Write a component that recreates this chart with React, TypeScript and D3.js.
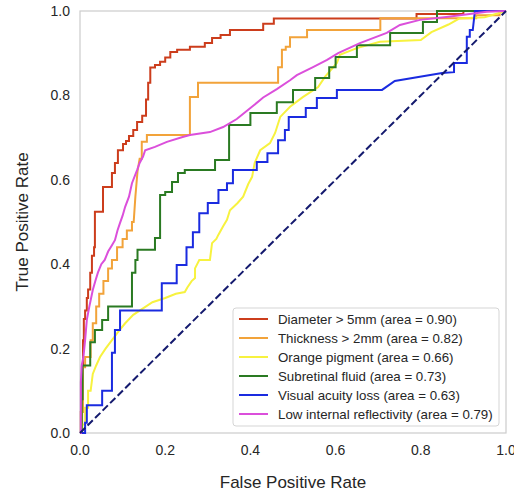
import React from "react";
import * as d3 from "d3";

const xTicks = [0, 0.2, 0.4, 0.6, 0.8, 1.0];
const yTicks = [0, 0.2, 0.4, 0.6, 0.8, 1.0];

const seriesNames = [
  "Diameter > 5mm (area = 0.90)",
  "Thickness > 2mm (area = 0.82)",
  "Orange pigment (area = 0.66)",
  "Subretinal fluid (area = 0.73)",
  "Visual acuity loss (area = 0.63)",
  "Low internal reflectivity (area = 0.79)",
];
const seriesColors = ["#cc3d1c", "#f2a33a", "#f7f23f", "#2a7a22", "#1a2be0", "#db4fdb"];

const diameter: [number, number][] = [
  [0, 0], [0.002, 0], [0.002, 0.05], [0.005, 0.05], [0.005, 0.16], [0.007, 0.16], [0.007, 0.22],
  [0.009, 0.22], [0.009, 0.27], [0.012, 0.27], [0.012, 0.29], [0.016, 0.29], [0.016, 0.32],
  [0.019, 0.32], [0.019, 0.34], [0.024, 0.34], [0.024, 0.38], [0.028, 0.38], [0.028, 0.42],
  [0.033, 0.42], [0.033, 0.44], [0.035, 0.44], [0.035, 0.524], [0.054, 0.524], [0.054, 0.583],
  [0.075, 0.583], [0.075, 0.616], [0.082, 0.616], [0.082, 0.64], [0.089, 0.64], [0.089, 0.67],
  [0.101, 0.67], [0.101, 0.685], [0.108, 0.685], [0.108, 0.692], [0.115, 0.692], [0.115, 0.704],
  [0.125, 0.704], [0.125, 0.718], [0.134, 0.718], [0.134, 0.737], [0.146, 0.737], [0.146, 0.752],
  [0.155, 0.752], [0.155, 0.79], [0.16, 0.79], [0.16, 0.83], [0.165, 0.83], [0.165, 0.866],
  [0.176, 0.866], [0.176, 0.872], [0.188, 0.872], [0.188, 0.88], [0.2, 0.88], [0.2, 0.89],
  [0.212, 0.89], [0.212, 0.903], [0.228, 0.903], [0.228, 0.908], [0.258, 0.908], [0.258, 0.915],
  [0.293, 0.915], [0.293, 0.924], [0.31, 0.924], [0.31, 0.936], [0.33, 0.936], [0.33, 0.943],
  [0.352, 0.943], [0.352, 0.955], [0.43, 0.955], [0.43, 0.97], [0.455, 0.97], [0.455, 0.982],
  [0.79, 0.982], [0.79, 0.993], [0.9, 0.993], [0.9, 1], [1, 1],
];

const thickness: [number, number][] = [
  [0, 0], [0.005, 0], [0.005, 0.05], [0.007, 0.05], [0.007, 0.156], [0.012, 0.156], [0.012, 0.18],
  [0.025, 0.18], [0.025, 0.22], [0.03, 0.22], [0.03, 0.26], [0.038, 0.26], [0.038, 0.3],
  [0.045, 0.3], [0.045, 0.33], [0.055, 0.33], [0.055, 0.36], [0.066, 0.36], [0.066, 0.39],
  [0.075, 0.39], [0.075, 0.41], [0.087, 0.41], [0.087, 0.44], [0.1, 0.44], [0.1, 0.46],
  [0.11, 0.46], [0.11, 0.48], [0.122, 0.48], [0.122, 0.5], [0.126, 0.5], [0.13, 0.56],
  [0.135, 0.62], [0.14, 0.65], [0.145, 0.65], [0.145, 0.69], [0.157, 0.69], [0.157, 0.706],
  [0.258, 0.706], [0.258, 0.796], [0.277, 0.796], [0.277, 0.83], [0.465, 0.83], [0.465, 0.867],
  [0.474, 0.867], [0.474, 0.908], [0.483, 0.908], [0.483, 0.915], [0.493, 0.915], [0.493, 0.938],
  [0.533, 0.938], [0.533, 0.955], [0.705, 0.955], [0.705, 0.983], [0.93, 0.983], [0.93, 0.99],
  [0.985, 0.99], [0.985, 1], [1, 1],
];

const pigment: [number, number][] = [
  [0, 0], [0.005, 0], [0.005, 0.02], [0.012, 0.02], [0.012, 0.06], [0.019, 0.06], [0.019, 0.1],
  [0.025, 0.1], [0.03, 0.14], [0.038, 0.16], [0.047, 0.18], [0.06, 0.2], [0.075, 0.22],
  [0.09, 0.24], [0.106, 0.26], [0.125, 0.28], [0.14, 0.29], [0.17, 0.31], [0.2, 0.32],
  [0.225, 0.33], [0.246, 0.334], [0.252, 0.345], [0.262, 0.36], [0.27, 0.367], [0.27, 0.39],
  [0.28, 0.41], [0.305, 0.41], [0.31, 0.45], [0.32, 0.46], [0.325, 0.47], [0.336, 0.49],
  [0.345, 0.505], [0.352, 0.528], [0.37, 0.545], [0.383, 0.56], [0.395, 0.59], [0.404, 0.607],
  [0.41, 0.64], [0.423, 0.67], [0.446, 0.687], [0.458, 0.711], [0.47, 0.749], [0.493, 0.773],
  [0.523, 0.796], [0.559, 0.82], [0.575, 0.844], [0.603, 0.877], [0.61, 0.896], [0.65, 0.912],
  [0.704, 0.927], [0.8, 0.931], [0.825, 0.95], [0.865, 0.968], [0.89, 0.982], [0.95, 0.985],
  [1, 1],
];

const fluid: [number, number][] = [
  [0, 0], [0.004, 0], [0.004, 0.08], [0.006, 0.08], [0.006, 0.16], [0.024, 0.16], [0.024, 0.215],
  [0.035, 0.215], [0.035, 0.244], [0.052, 0.244], [0.052, 0.268], [0.066, 0.268], [0.066, 0.3],
  [0.122, 0.3], [0.122, 0.38], [0.13, 0.38], [0.13, 0.41], [0.135, 0.41], [0.135, 0.434],
  [0.176, 0.434], [0.176, 0.462], [0.188, 0.462], [0.188, 0.564], [0.2, 0.564], [0.2, 0.571],
  [0.216, 0.571], [0.216, 0.595], [0.23, 0.595], [0.23, 0.616], [0.246, 0.616], [0.246, 0.623],
  [0.317, 0.623], [0.317, 0.647], [0.35, 0.647], [0.35, 0.73], [0.4, 0.73], [0.4, 0.758],
  [0.462, 0.758], [0.462, 0.784], [0.5, 0.784], [0.5, 0.813], [0.552, 0.813], [0.552, 0.841],
  [0.585, 0.841], [0.585, 0.867], [0.6, 0.867], [0.6, 0.891], [0.65, 0.891], [0.65, 0.919],
  [0.728, 0.919], [0.728, 0.948], [0.805, 0.948], [0.805, 0.974], [0.838, 0.974], [0.838, 1],
  [1, 1],
];

const acuity: [number, number][] = [
  [0, 0], [0.012, 0], [0.012, 0.024], [0.016, 0.024], [0.016, 0.066], [0.052, 0.066], [0.052, 0.1],
  [0.075, 0.1], [0.075, 0.19], [0.082, 0.19], [0.082, 0.244], [0.094, 0.244], [0.094, 0.29],
  [0.192, 0.29], [0.192, 0.355], [0.227, 0.355], [0.227, 0.398], [0.25, 0.398], [0.25, 0.44],
  [0.265, 0.44], [0.265, 0.476], [0.28, 0.476], [0.28, 0.521], [0.3, 0.521], [0.3, 0.545],
  [0.325, 0.545], [0.325, 0.576], [0.345, 0.576], [0.345, 0.592], [0.359, 0.592], [0.359, 0.623],
  [0.415, 0.623], [0.415, 0.642], [0.44, 0.642], [0.44, 0.663], [0.465, 0.663], [0.465, 0.694],
  [0.481, 0.694], [0.481, 0.718], [0.49, 0.718], [0.49, 0.749], [0.53, 0.749], [0.53, 0.77],
  [0.556, 0.77], [0.556, 0.794], [0.603, 0.794], [0.603, 0.813], [0.709, 0.813], [0.739, 0.834],
  [0.85, 0.853], [0.878, 0.855], [0.878, 0.877], [0.908, 0.877], [0.908, 0.939], [0.915, 0.939],
  [0.915, 0.955], [0.922, 0.955], [0.927, 1], [1, 1],
];

const reflectivity: [number, number][] = [
  [0, 0], [0.002, 0], [0.002, 0.12], [0.004, 0.16], [0.008, 0.18], [0.012, 0.22], [0.016, 0.268],
  [0.022, 0.3], [0.03, 0.339], [0.036, 0.36], [0.042, 0.38], [0.05, 0.4], [0.058, 0.41],
  [0.066, 0.43], [0.075, 0.445], [0.082, 0.457], [0.088, 0.48], [0.094, 0.498], [0.1, 0.515],
  [0.106, 0.536], [0.115, 0.56], [0.122, 0.592], [0.134, 0.623], [0.14, 0.64], [0.148, 0.655],
  [0.153, 0.67], [0.176, 0.678], [0.204, 0.69], [0.239, 0.701], [0.258, 0.706], [0.305, 0.713],
  [0.336, 0.725], [0.368, 0.744], [0.4, 0.77], [0.43, 0.795], [0.462, 0.815], [0.493, 0.836],
  [0.509, 0.848], [0.547, 0.867], [0.58, 0.884], [0.606, 0.9], [0.657, 0.924], [0.72, 0.948],
  [0.751, 0.967], [0.798, 0.979], [0.86, 0.986], [0.955, 0.998], [1, 1],
];

const seriesData = [diameter, thickness, pigment, fluid, acuity, reflectivity];
const chance: [number, number][] = [[0, 0], [1, 1]];

const W = 514;
const H = 495;
const left = 80, right = 506, top = 11, bottom = 433;
const FONT = "'Liberation Sans', Arial, Helvetica, sans-serif";
const TXT = "#262626";

export default function App() {
  const x = d3.scaleLinear().domain([0, 1]).range([left, right]);
  const y = d3.scaleLinear().domain([0, 1]).range([bottom, top]);
  const line = d3
    .line<[number, number]>()
    .x((d) => x(d[0]))
    .y((d) => y(d[1]))
    .curve(d3.curveLinear);
  const fmt = d3.format(".1f");

  const legX = 233, legY = 308, legW = 266, legH = 118;
  const rowY0 = 319, rowStep = 19;

  return (
    <div style={{ position: "absolute", left: 0, top: 0 }}>
      <svg width={W} height={H} style={{ display: "block", background: "#fff" }}>
        <rect x={0} y={0} width={W} height={H} fill="#fff" />
        <rect x={left} y={top} width={right - left} height={bottom - top} fill="#fff" stroke="#cccccc" strokeWidth={1.2} />
        {seriesData.map((d, i) => (
          <path key={i} d={line(d) || ""} fill="none" stroke={seriesColors[i]} strokeWidth={2} strokeLinejoin="miter" />
        ))}
        <path d={line(chance) || ""} fill="none" stroke="#141a6e" strokeWidth={2} strokeDasharray="7.4,3.2" />
        {xTicks.map((t) => (
          <text key={"x" + t} x={x(t)} y={bottom + 22} textAnchor="middle" fontFamily={FONT} fontSize={14} fill={TXT}>
            {fmt(t)}
          </text>
        ))}
        {yTicks.map((t) => (
          <text key={"y" + t} x={left - 10} y={y(t) + 5} textAnchor="end" fontFamily={FONT} fontSize={14} fill={TXT}>
            {fmt(t)}
          </text>
        ))}
        <text x={(left + right) / 2} y={488} textAnchor="middle" fontFamily={FONT} fontSize={17} fill={TXT}>
          False Positive Rate
        </text>
        <text
          transform={`translate(28, ${(top + bottom) / 2}) rotate(-90)`}
          textAnchor="middle"
          fontFamily={FONT}
          fontSize={17}
          fill={TXT}
        >
          True Positive Rate
        </text>
        <rect x={legX} y={legY} width={legW} height={legH} rx={3} fill="#fff" fillOpacity={0.85} stroke="#d5d5d5" strokeWidth={1} />
        {seriesNames.map((n, i) => (
          <g key={n}>
            <line x1={239} x2={268} y1={rowY0 + i * rowStep} y2={rowY0 + i * rowStep} stroke={seriesColors[i]} strokeWidth={2} />
            <text x={278} y={rowY0 + i * rowStep + 4.5} fontFamily={FONT} fontSize={13.3} fill={TXT}>
              {n}
            </text>
          </g>
        ))}
      </svg>
    </div>
  );
}
